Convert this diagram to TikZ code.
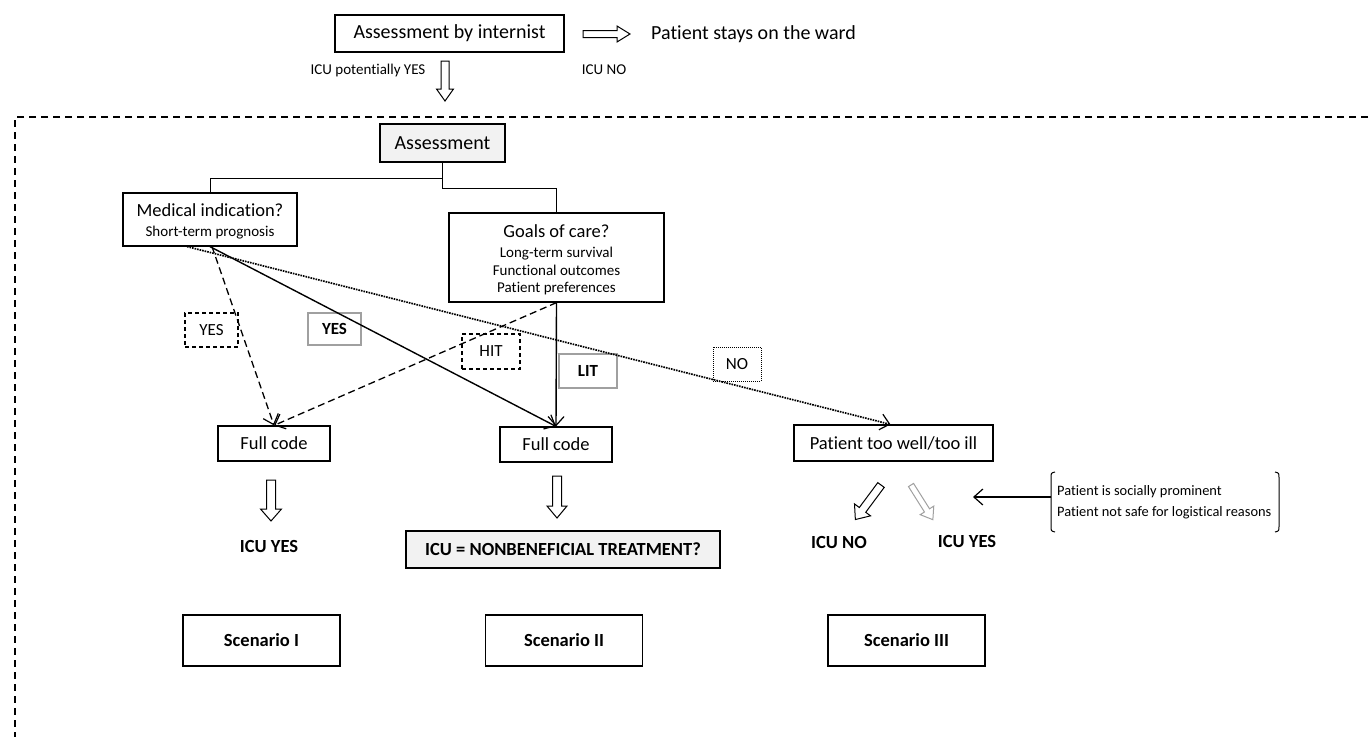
\documentclass[tikz,border=0pt]{standalone}
\usepackage{fontspec}
\setmainfont{Carlito}[Ligatures={NoCommon}]
\usetikzlibrary{arrows.meta,calc}
\definecolor{boxgray}{HTML}{F2F2F2}
\definecolor{edgegray}{HTML}{A0A0A0}
\newcommand\myfs[1]{\fontsize{#1}{#1}\selectfont}
\tikzset{
  pics/blockarrow/.style args={#1/#2/#3/#4}{code={%
    \draw[line width=1pt, pic actions] (0,-#2) -- (#1-#4,-#2) -- (#1-#4,-#3) -- (#1,0) -- (#1-#4,#3) -- (#1-#4,#2) -- (0,#2) -- cycle;}},
}
\begin{document}
\begin{tikzpicture}[x=1pt,y=-1pt,
  box/.style={draw=black, line width=1.2pt, inner sep=0pt, align=center},
  graybox/.style={draw=edgegray, line width=1.2pt, inner sep=0pt},
  dashbox/.style={draw=black, line width=1.1pt, dash pattern=on 4pt off 3pt, inner sep=0pt},
  dotbox/.style={draw=black, line width=1pt, dash pattern=on 1pt off 1pt, inner sep=0pt},
  txt/.style={inner sep=0pt, anchor=base},
  tip/.style={-{Straight Barb[length=9pt,width=16pt,line width=1.2pt]}},
  dashconn/.style={tip, line width=1.3pt, dash pattern=on 7pt off 4pt},
  solidconn/.style={tip, line width=1.4pt},
  dotconn/.style={tip, line width=1.7pt, dash pattern=on 1.6pt off 1pt},
  treeline/.style={line width=0.9pt},
  big/.style={font=\myfs{20}},
  main/.style={font=\myfs{18.5}},
  sub/.style={font=\myfs{15}},
  lbl/.style={font=\myfs{17}},
  boldlbl/.style={font=\bfseries\myfs{18.5}},
]
\useasboundingbox (0,0) rectangle (1370,737);

% top part
\node[box, big, minimum width=229, minimum height=37] (internist) at (449.5,33.5) {Assessment by internist};
\pic at (583,34) {blockarrow=47/3.5/8/13};
\node[txt, big, anchor=base west] (stays) at (651,39.4) {Patient stays on the ward};
\node[txt, sub] (icuno0) at (604,74.8) {ICU NO};
\node[txt, sub] (potyes) at (368,74.8) {ICU potentially YES};
\pic[rotate=-90] at (445,61) {blockarrow=40/4/8.5/12};

% dashed frame
\draw[line width=1.7pt, dash pattern=on 7pt off 5pt] (1368,117) -- (15,117) -- (15,737);

% assessment tree
\node[box, big, fill=boxgray, minimum width=125, minimum height=38] (assess) at (442.5,143) {Assessment};
\node[box, minimum width=174, minimum height=53] (med) at (210,219.5) {};
\node[txt, main] (medt) at (210,216.9) {Medical indication?};
\node[txt, sub] (meds) at (210,236.8) {Short-term prognosis};
\node[box, minimum width=215, minimum height=89] (goals) at (556.5,257.5) {};
\node[txt, main] (goalst) at (556.5,237.9) {Goals of care?};
\node[txt, sub] (goals1) at (556.5,257.8) {Long-term survival};
\node[txt, sub] (goals2) at (556.5,275.8) {Functional outcomes};
\node[txt, sub] (goals3) at (556.5,292.8) {Patient preferences};
\coordinate (split) at (442.5,178);
\coordinate (split2) at (442.5,188);
\draw[treeline] (assess.south) -- (split) -| (med.north);
\draw[treeline] (split) -- (split2) -| (goals.north);

% outcome boxes
\node[box, main, minimum width=112, minimum height=35] (fc1) at (274,443.5) {Full code};
\node[box, main, minimum width=112, minimum height=35] (fc2) at (556,444.5) {Full code};
\node[box, main, minimum width=199, minimum height=36] (tw) at (893.5,443) {Patient too well/too ill};

% labels
\node[dashbox, lbl, minimum width=53, minimum height=34] (yes1) at (211.5,330) {YES};
\node[graybox, lbl, font=\bfseries\myfs{17}, minimum width=53, minimum height=32] (yes2) at (334.5,329) {YES};
\node[dashbox, lbl, minimum width=58, minimum height=35] (hit) at (491,351.5) {HIT};
\node[graybox, lbl, font=\bfseries\myfs{17}, minimum width=58, minimum height=34] (lit) at (588,371) {LIT};
\node[dotbox, lbl, minimum width=48, minimum height=34] (no) at (737,364) {NO};

% connectors
\draw[dotconn] ($(med.south)+(-23,0)$) -- ($(tw.north)+(-3,0)$);
\draw[dashconn] ($(med.south)+(2,0)$) -- (fc1.north);
\draw[dashconn] (goals.south) -- (fc1.north);
\draw[solidconn] (med.south) -- (fc2.north);
\draw[solidconn] (goals.south) -- (fc2.north);

% fat arrows and results
\pic[rotate=-90] at (271,480) {blockarrow=41/4.5/10.5/12};
\pic[rotate=-90] at (557,476) {blockarrow=42/4.5/10/12};
\node[txt, boldlbl] (icuyes1) at (269,552.9) {ICU YES};
\node[box, boldlbl, fill=boxgray, minimum width=314, minimum height=37] (nonben) at (563,549.5) {ICU = NONBENEFICIAL TREATMENT?};
\pic[rotate=-126.6] at (881,485) {blockarrow=43/4/10/12};
\pic[rotate=-57.8, draw=edgegray] at (911,485) {blockarrow=41/3/8/11};
\node[txt, boldlbl] (icuno3) at (839,548.9) {ICU NO};
\node[txt, boldlbl] (icuyes3) at (967,547.9) {ICU YES};

% bracket
\draw[line width=1pt] (1055,472) .. controls (1051,473) .. (1051,478) -- (1051,526) .. controls (1051,531) .. (1055,532);
\draw[line width=1pt] (1275,472) .. controls (1279,473) .. (1279,478) -- (1279,526) .. controls (1279,531) .. (1275,532);
\node[txt, font=\myfs{14.4}, anchor=base west] (soc) at (1057,495.6) {Patient is socially prominent};
\node[txt, font=\myfs{14.4}, anchor=base west] (safe) at (1057,516.6) {Patient not safe for logistical reasons};
\coordinate (brk) at (1051,497);
\coordinate (brtip) at (973,497);
\draw[tip, line width=1.3pt] (brk) -- (brtip);

% scenarios
\node[box, boldlbl, minimum width=157, minimum height=51] (s1) at (261.5,640.5) {Scenario I};
\node[box, boldlbl, minimum width=157, minimum height=51] (s2) at (564,640.5) {Scenario II};
\node[box, boldlbl, minimum width=157, minimum height=51] (s3) at (906.5,640.5) {Scenario III};
\end{tikzpicture}
\end{document}
